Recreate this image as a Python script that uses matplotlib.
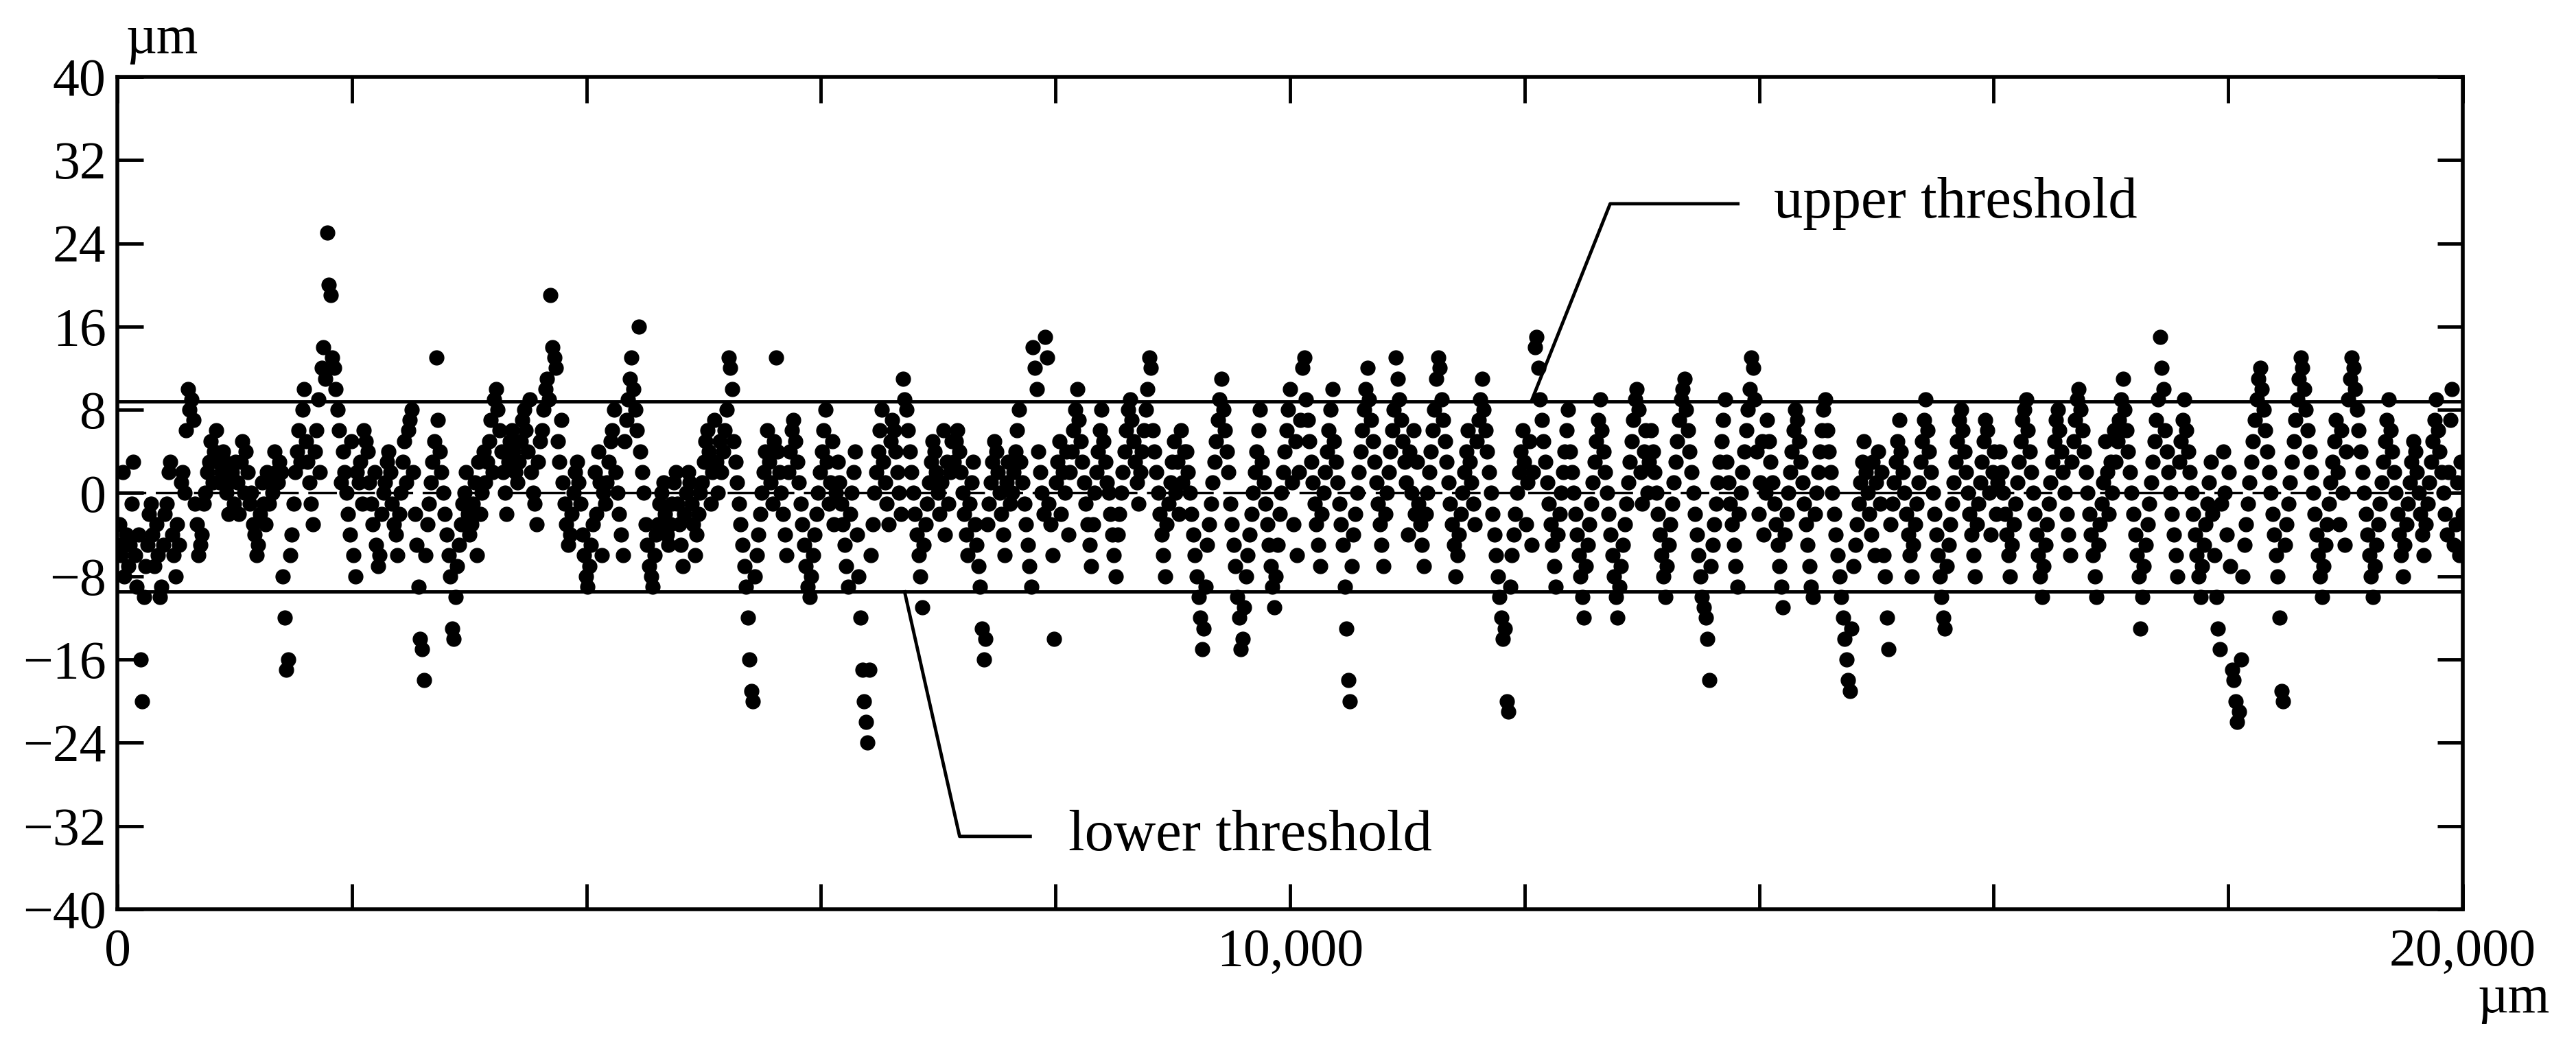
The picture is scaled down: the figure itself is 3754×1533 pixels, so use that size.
import numpy as np
import matplotlib
matplotlib.use("Agg")
import matplotlib.pyplot as plt
from matplotlib.ticker import FixedLocator, FixedFormatter

# deviation values (µm), read segment by segment (each ~1000 µm of profile length)
seg00 = [-5,-3,-6,2,-8,-4,-7,-5,-1,3,-6,-9,-4,-16,-20,-10,-7,-5,-2,-1,-4,-7,-3,-6,-10,-9,-5,-2,-1,2,3,-4,-6,-8,-3,-5,1,2,0,6,10,8,9,7,-1,-3,-6,-5,-4,-1,0,2,3,5,1,4,6,3,1,2,4,3,0,-2,1,2,-1,3,1,-2]
seg01 = [3,5,0,4,2,-1,0,-3,-4,-6,-5,-2,1,-1,-3,2,-1,1,0,4,2,1,3,2,-8,-12,-17,-16,-6,-4,-1,2,4,6,3,8,10,5,3,1,-1,-3,4,6,9,2,12,14,11,25,20,19,13,12,10,8,6,1,4,2,0,-2,-4,5,-6,-8,2,1,3,-1,6]
seg02 = [5,4,1,-1,-3,2,-5,-7,-6,-2,0,1,3,4,2,-1,-3,-4,-6,-2,0,3,5,1,6,7,8,2,-2,-5,-9,-14,-15,-18,-6,-3,-1,1,3,5,13,7,4,2,0,-2,-4,-6,-8,-13,-14,-10,-7,-5,-3,-1,0,2,-2,-4,-3,-1,1,-6,3,-2,0,4]
seg03 = [1,3,5,7,2,9,10,8,6,4,2,0,-2,3,5,6,4,2,1,3,5,7,8,6,4,9,2,0,-1,-3,3,5,6,8,10,11,9,19,14,13,12,5,3,7,1,-1,-3,-5,-4,-2,0,2,3,1,-1,-4,-6,-8,-9,-7,-5,-3,2,-2,4,1,-6,0]
seg04 = [-1,1,3,5,6,8,2,0,-2,-4,-6,5,7,9,11,13,10,8,6,16,4,2,0,-3,-5,-7,-8,-9,-6,-4,-3,-1,0,1,-2,-4,-5,-3,-1,1,2,-1,-3,-5,-7,-2,0,2,1,-1,-3,-6,-4,-2,0,1,3,5,6,4,-1,2,7,3,0,5]
seg05 = [2,4,6,8,13,12,10,5,3,1,-1,-3,-5,-7,-9,-12,-16,-19,-20,-8,-6,-4,-2,0,2,4,6,3,1,-1,5,13,4,2,0,-2,-4,-6,2,4,6,7,5,3,1,-1,-3,-5,-7,-9,-10,-8,-6,-4,-2,0,2,4,6,8,3,-1,1,5,-3,0]
seg06 = [3,1,-1,-3,-5,-7,-9,-2,0,2,4,-4,-8,-12,-17,-20,-22,-24,-17,-6,-3,0,2,4,6,8,3,1,-1,-3,5,7,6,4,2,0,-2,11,9,8,6,4,2,0,-2,-4,-6,-8,-11,-5,-3,-1,1,3,5,4,2,0,-2,1,6,-4,3,-1,2,5]
seg07 = [3,5,6,4,2,0,-2,-4,-6,-1,1,3,-3,-5,-7,-9,-13,-16,-14,-3,-1,1,3,5,4,2,0,-2,-4,-6,1,3,-1,0,2,4,6,8,3,1,-1,-3,-5,-7,-9,14,12,10,4,2,0,-2,15,13,-1,-3,-6,-14,1,3,5,-2,2,0,4,-4]
seg08 = [2,4,6,8,10,7,5,3,1,-1,-3,-5,-7,-3,0,2,4,6,8,5,3,1,0,-2,-4,-6,-8,-4,-2,0,2,4,6,8,9,7,5,3,1,-1,2,4,6,8,10,13,12,6,4,2,0,-2,-4,-6,-8,-3,-1,1,3,5,0,3,-2,6,1,4]
seg09 = [4,2,0,-2,-4,-6,-8,-10,-12,-15,-13,-9,-5,-3,-1,1,3,5,7,9,11,8,6,4,2,-1,-3,-5,-7,-10,-12,-15,-14,-11,-8,-6,-4,-2,0,2,4,6,8,3,1,-1,-3,-5,-7,-9,-11,-8,-5,-2,0,2,4,6,8,10,1,-3,5,-6,2,7]
seg10 = [12,13,9,7,5,3,1,-1,-3,-5,-7,-2,0,2,4,6,8,10,5,3,1,-1,-3,-5,-9,-13,-18,-20,-7,-4,-2,0,2,4,6,8,10,12,9,7,5,3,1,-1,-3,-5,-7,-2,0,2,4,6,8,13,11,9,7,5,3,1,-4,4,0,6,-2,3]
seg11 = [-1,-3,-5,-7,-2,0,2,4,6,8,11,13,12,9,7,5,3,1,-1,-3,-5,-8,-6,-4,-2,0,2,4,6,3,1,-1,-3,5,7,9,11,8,6,4,2,0,-2,-4,-6,-8,-10,-12,-14,-13,-20,-21,-9,-6,-4,-2,0,2,4,6,3,-3,1,5,-5,2]
seg12 = [14,15,12,9,7,5,3,1,-1,-3,-5,-7,-9,-4,-2,0,2,4,6,8,4,2,0,-2,-4,-6,-8,-10,-12,-7,-5,-3,-1,1,3,5,7,9,6,4,2,0,-2,-4,-6,-8,-10,-12,-9,-7,-5,-3,-1,1,3,5,7,9,10,8,2,-1,4,6,0,3]
seg13 = [6,4,2,0,-2,-4,-6,-8,-10,-7,-5,-3,-1,1,3,5,7,9,10,11,8,6,4,2,0,-2,-4,-6,-8,-10,-11,-12,-14,-18,-7,-5,-3,-1,1,3,5,7,9,3,1,-1,-3,-5,-7,-9,-2,0,2,4,6,8,10,13,12,9,4,-2,1,5,-4,0]
seg14 = [7,5,3,1,-1,-3,-5,-7,-9,-11,-4,-2,0,2,4,6,8,7,5,3,1,-1,-3,-5,-7,-9,-10,-2,0,2,4,6,8,9,6,4,2,0,-2,-4,-6,-8,-10,-12,-14,-16,-18,-19,-13,-7,-5,-3,-1,1,3,5,2,0,-2,-4,3,-6,1,4,-1,2]
seg15 = [-6,-8,-12,-15,-3,-1,1,3,5,7,4,2,0,-2,-4,-6,-8,-5,-3,-1,1,3,5,7,9,6,4,2,0,-2,-4,-6,-8,-10,-12,-13,-7,-5,-3,-1,1,3,5,7,8,6,4,2,0,-2,-4,-6,-8,-3,-1,1,3,5,7,6,0,-4,2,4,-2,1]
seg16 = [4,2,0,-2,-4,-6,-8,-5,-3,-1,1,3,5,7,8,9,6,4,2,0,-2,-4,-6,-8,-10,-7,-5,-3,-1,1,3,5,7,8,6,4,2,0,-2,-4,-6,3,5,7,9,10,8,6,4,2,0,-2,-4,-6,-8,-10,-5,-3,-1,1,5,2,-2,3,0,6]
seg17 = [3,5,7,9,11,8,6,4,2,0,-2,-4,-6,-8,-13,-10,-7,-5,-3,-1,1,3,5,7,9,15,12,10,6,4,2,0,-2,-4,-6,-8,3,5,7,9,6,4,2,0,-2,-4,-6,-8,-10,-7,-5,-3,-1,1,3,-2,-6,-10,-13,-15,-1,4,0,-4,2,-7]
seg18 = [-17,-18,-20,-22,-21,-16,-8,-5,-3,-1,1,3,5,7,9,11,12,10,8,6,4,2,0,-2,-4,-6,-8,-12,-19,-20,-5,-3,-1,1,3,5,7,9,11,13,12,10,8,6,4,2,0,-2,-4,-6,-8,-10,-7,-5,-3,-1,1,3,5,7,2,-3,6,0,-5,4]
seg19 = [9,11,13,12,10,8,6,4,2,0,-2,-4,-6,-8,-10,-7,-5,-3,-1,1,3,5,7,9,6,4,2,0,-2,-4,-6,-8,-5,-3,-1,1,3,5,4,2,0,-2,-4,-6,-3,-1,1,3,5,7,9,6,4,2,0,-2,-4,2,7,10,-5,-3,1,-6,3,-2]

upper_threshold = 8.8
lower_threshold = -9.5
profile_length = 20000
y_ticks = [-40, -32, -24, -16, -8, 0, 8, 16, 24, 32, 40]
x_ticks = [0, 2000, 4000, 6000, 8000, 10000, 12000, 14000, 16000, 18000, 20000]
x_tick_labels = ["0", "", "", "", "", "10,000", "", "", "", "", "20,000"]

segments = [seg00, seg01, seg02, seg03, seg04, seg05, seg06, seg07, seg08, seg09,
            seg10, seg11, seg12, seg13, seg14, seg15, seg16, seg17, seg18, seg19]
y = np.concatenate([np.asarray(s, float) for s in segments])
x = np.linspace(0, profile_length, len(y))

plt.rcParams['font.family'] = ['Liberation Serif', 'DejaVu Serif']
fig = plt.figure(figsize=(37.54, 15.33), dpi=100)
ax = fig.add_axes([0.0456, 0.1357, 0.9104, 0.7913])

ax.plot(x, y, 'o', color='black', ms=15, zorder=3)
ax.axhline(upper_threshold, color='black', lw=3.5, zorder=2)
ax.axhline(lower_threshold, color='black', lw=3.5, zorder=2)
ax.axhline(0, color='black', lw=2.5, dashes=(12, 4), zorder=1)

ax.set_xlim(0, profile_length)
ax.set_ylim(-40, 40)
ax.xaxis.set_major_locator(FixedLocator(x_ticks))
ax.xaxis.set_major_formatter(FixedFormatter(x_tick_labels))
ax.set_yticks(y_ticks)
ax.set_yticklabels([f"{v}".replace("-", "\u2212") for v in y_ticks])
ax.tick_params(axis='both', direction='in', length=27, width=3.5, labelsize=56,
               top=True, right=True)
ax.tick_params(axis='x', pad=20)
ax.tick_params(axis='y', pad=12)
for sp in ax.spines.values():
    sp.set_linewidth(4)

# annotation leaders
ax.plot([12057, 12730, 13819], [upper_threshold, 27.8, 27.8], color='black', lw=3.5, clip_on=False)
ax.text(14123, 27.8, "upper threshold", fontsize=61, va='center', ha='left')
ax.plot([6713, 7182, 7784], [lower_threshold, -33, -33], color='black', lw=3.5, clip_on=False)
ax.text(8112, -33, "lower threshold", fontsize=61, va='center', ha='left')

fig.text(183 / 3754, 0.9617, "µm", fontsize=56, ha='left', va='center')
fig.text(3716 / 3754, 0.050, "µm", fontsize=56, ha='right', va='center')

fig.savefig("out.png", dpi=100)
